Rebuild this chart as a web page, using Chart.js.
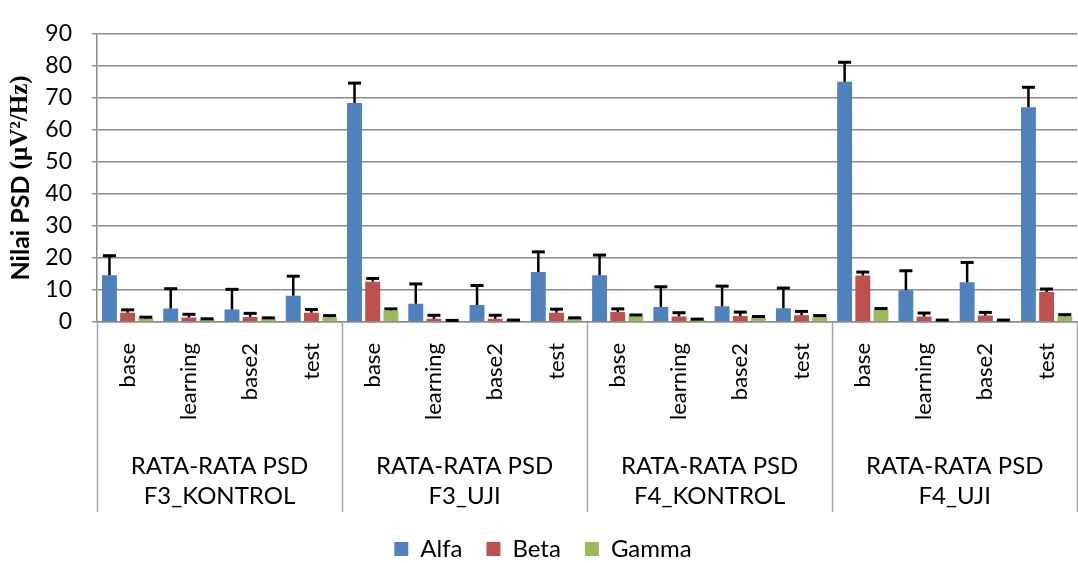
<!DOCTYPE html>
<html>
<head>
<meta charset="utf-8">
<script src="https://cdn.jsdelivr.net/npm/chart.js@4"></script>
<style>
    html, body { margin: 0; padding: 0; background: #fff; overflow: hidden; }
    #wrap { position: relative; width: 1086px; height: 571px; }
</style>
</head>
<body>
<div id="wrap"><canvas id="psdChart"></canvas></div>
<script>
// sub categories (x axis, rotated) and the groups under them
const categories = ['base', 'learning', 'base2', 'test',
                    'base', 'learning', 'base2', 'test',
                    'base', 'learning', 'base2', 'test',
                    'base', 'learning', 'base2', 'test'];
const groups = [['RATA-RATA PSD', 'F3_KONTROL'], ['RATA-RATA PSD', 'F3_UJI'],
                ['RATA-RATA PSD', 'F4_KONTROL'], ['RATA-RATA PSD', 'F4_UJI']];
const groupSize = 4;

const alfa     = [14.6, 4.2, 3.9, 8.2, 68.4, 5.7, 5.3, 15.6, 14.6, 4.7, 4.9, 4.3, 75.0, 9.9, 12.4, 67.1];
const alfaErr  = [6.1, 6.2, 6.3, 6.1, 6.2, 6.2, 6.1, 6.3, 6.3, 6.3, 6.3, 6.3, 6.1, 6.1, 6.2, 6.2];
const beta     = [2.9, 1.4, 1.6, 2.9, 12.6, 1.0, 1.0, 2.9, 3.1, 1.7, 1.9, 2.1, 14.5, 1.7, 2.0, 9.4];
const betaErr  = [0.9, 1.0, 1.1, 1.0, 1.0, 1.1, 1.1, 1.1, 1.0, 1.2, 1.2, 1.2, 1.1, 1.1, 1.0, 0.9];
const gamma    = [1.1, 0.8, 1.0, 1.5, 3.6, 0.4, 0.5, 1.0, 1.8, 0.7, 1.4, 1.6, 3.8, 0.5, 0.5, 1.8];
const gammaErr = [0.4, 0.2, 0.3, 0.5, 0.5, 0.1, 0.1, 0.3, 0.4, 0.2, 0.3, 0.4, 0.4, 0.1, 0.1, 0.5];

const yTicks = { min: 0, max: 90, step: 10 };

const textFont = 'Lato';

// black "plus" error bars on top of every bar
const errorBars = {
    id: 'errorBars',
    afterDatasetsDraw(chart) {
        const ctx = chart.ctx;
        const yScale = chart.scales.y;
        ctx.save();
        ctx.strokeStyle = '#000';
        chart.data.datasets.forEach((ds, i) => {
            const meta = chart.getDatasetMeta(i);
            if (meta.hidden) return;
            meta.data.forEach((bar, j) => {
                const top = yScale.getPixelForValue(ds.data[j] + ds.errors[j]);
                ctx.lineWidth = 2.5;
                ctx.beginPath();
                ctx.moveTo(bar.x, bar.y);
                ctx.lineTo(bar.x, top);
                ctx.stroke();
                ctx.lineWidth = 3;
                ctx.beginPath();
                ctx.moveTo(bar.x - 6.5, top);
                ctx.lineTo(bar.x + 6.5, top);
                ctx.stroke();
            });
        });
        ctx.restore();
    }
};

// second level of the x axis: separators and group names
const groupAxis = {
    id: 'groupAxis',
    afterDraw(chart) {
        const ctx = chart.ctx;
        const x = chart.scales.x;
        const area = chart.chartArea;
        const step = (x.getPixelForValue(1) - x.getPixelForValue(0));
        ctx.save();
        ctx.strokeStyle = '#a6a6a6';
        ctx.lineWidth = 1.5;
        for (let g = 0; g <= groups.length; g++) {
            const px = Math.round(area.left + g * groupSize * step) + 0.5;
            ctx.beginPath();
            ctx.moveTo(px, area.bottom);
            ctx.lineTo(px, area.bottom + 190);
            ctx.stroke();
        }
        ctx.fillStyle = '#000';
        ctx.font = '24px ' + textFont;
        ctx.textAlign = 'center';
        ctx.textBaseline = 'middle';
        groups.forEach((lines, g) => {
            const cx = area.left + (g + 0.5) * groupSize * step;
            ctx.fillText(lines[0], cx, 466);
            ctx.fillText(lines[1], cx, 496);
        });
        ctx.restore();
    }
};

// y title: sans part + serif unit part, like the original
const yTitle = {
    id: 'yTitle',
    afterDraw(chart) {
        const ctx = chart.ctx;
        const area = chart.chartArea;
        const partA = 'Nilai PSD ';
        const partB = '(\u00B5V\u00B2/Hz)';
        const fontA = 'bold 25px ' + textFont;
        const fontB = 'bold 25px "Liberation Serif"';
        ctx.save();
        ctx.font = fontA;
        const wA = ctx.measureText(partA).width;
        ctx.font = fontB;
        const wB = ctx.measureText(partB).width;
        ctx.translate(21, (area.top + area.bottom) / 2);
        ctx.rotate(-Math.PI / 2);
        ctx.fillStyle = '#000';
        ctx.textBaseline = 'middle';
        ctx.textAlign = 'left';
        const start = -(wA + wB) / 2;
        ctx.font = fontA;
        ctx.fillText(partA, start, 0);
        ctx.font = fontB;
        ctx.fillText(partB, start + wA, 0);
        ctx.restore();
    }
};

const ctx = document.getElementById('psdChart').getContext('2d');
const psdChart = new Chart(ctx, {
    type: 'bar',
    data: {
        labels: categories,
        datasets: [
            { label: 'Alfa', data: alfa, errors: alfaErr, backgroundColor: '#4f81bd' },
            { label: 'Beta', data: beta, errors: betaErr, backgroundColor: '#c0504d' },
            { label: 'Gamma', data: gamma, errors: gammaErr, backgroundColor: '#9bbb59' },
        ],
    },
    options: {
        responsive: true,
        maintainAspectRatio: false,
        animation: false,
        categoryPercentage: 0.89,
        barPercentage: 0.82,
        layout: { padding: { top: 24, bottom: 0, left: 0, right: 0 } },
        scales: {
            x: {
                grid: { display: false },
                border: { color: '#8c8c8c', width: 1.5 },
                ticks: {
                    color: '#000',
                    font: { family: textFont, size: 22 },
                    minRotation: 90,
                    maxRotation: 90,
                    autoSkip: false,
                    padding: 13,
                },
                afterFit(scale) { scale.height = 191; },
            },
            y: {
                min: yTicks.min,
                max: yTicks.max,
                grid: { color: '#8c8c8c', lineWidth: 1.5, tickLength: 5 },
                border: { color: '#8c8c8c', width: 1.5 },
                ticks: {
                    stepSize: yTicks.step,
                    color: '#000',
                    font: { family: textFont, size: 23 },
                    padding: 20,
                },
                afterFit(scale) { scale.width = 97; },
            },
        },
        plugins: {
            legend: {
                position: 'bottom',
                labels: {
                    color: '#000',
                    font: { family: textFont, size: 24 },
                    boxWidth: 14,
                    boxHeight: 14,
                    padding: 24,
                },
            },
            tooltip: { enabled: false },
        },
    },
    plugins: [errorBars, groupAxis, yTitle],
});
</script>
</body>
</html>
